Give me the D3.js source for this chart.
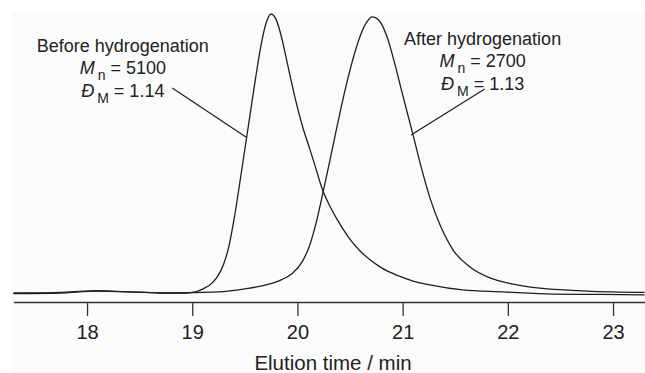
<!doctype html>
<html>
    <head>
        <meta charset="utf-8">
        <title>SEC traces before / after hydrogenation</title>
        <script src="https://d3js.org/d3.v7.min.js"></script>
        <style type="text/css">
            body { margin:0; background:#fff; }
            text { font-family:"Liberation Sans", Arial, sans-serif; fill:#222; }
        </style>
    </head>
    <body>
      <svg></svg>
      <script type="text/javascript">

        let w = 645,
            h = 373;

        // elution time (min) and normalised RI intensity
        let timeBefore = [17.30, 17.55, 17.84, 18.10, 18.36, 18.69, 18.93, 19.00, 19.10, 19.20,
                          19.25, 19.30, 19.35, 19.40, 19.45, 19.50, 19.55, 19.60, 19.65, 19.70,
                          19.75, 19.80, 19.85, 19.90, 19.98, 20.05, 20.12, 20.17, 20.24, 20.31,
                          20.38, 20.44, 20.50, 20.60, 20.69, 20.80, 20.95, 21.10, 21.26, 21.57,
                          21.95, 22.43, 22.88, 23.30];
        let intensityBefore = [0, 0, 0.4, 0.8, 0.5, 0, 0, 0.2, 1.4, 4.0,
                               6.5, 10.5, 17.0, 27.0, 39.0, 51.5, 64.0, 76.5, 88.0, 96.5,
                               100, 97.8, 91.5, 83.0, 69.5, 59.5, 51.3, 45.3, 36.8, 31.0,
                               26.2, 22.5, 19.2, 14.9, 11.9, 9.0, 6.3, 4.3, 2.9, 1.1,
                               0.4, -0.4, -0.5, -0.7];

        let timeAfter = [17.30, 17.74, 18.10, 18.41, 18.79, 19.25, 19.50, 19.70, 19.85, 19.95,
                         20.05, 20.12, 20.18, 20.24, 20.30, 20.36, 20.42, 20.48, 20.54, 20.60,
                         20.66, 20.71, 20.78, 20.85, 20.93, 21.00, 21.09, 21.17, 21.26, 21.36,
                         21.48, 21.64, 21.83, 22.05, 22.28, 22.75, 23.30];
        let intensityAfter = [-0.2, 0, 0.7, 0.4, 0, 0.4, 1.5, 2.9, 4.8, 7.0,
                              11.5, 17.5, 25.5, 35.5, 46.0, 56.8, 67.3, 77.0, 85.5, 92.5,
                              97.2, 99.0, 97.5, 92.0, 81.5, 71.0, 58.0, 46.0, 34.0, 24.0,
                              15.4, 9.3, 5.4, 3.2, 1.8, 0.7, 0.2];

        let tickValues = [18, 19, 20, 21, 22, 23];
        let axisTitle = 'Elution time / min';

        let labelTitles = ['Before hydrogenation', 'After hydrogenation'];
        let labelMn = ['5100', '2700'];
        let labelDispersity = ['1.14', '1.13'];
        // label centre (time, intensity of first baseline) and leader line ends
        let labelAnchor = [[18.34, 86.4], [21.76, 88.9]];
        let leaderFrom = [[18.81, 73.5], [21.78, 73.1]];
        let leaderTo = [[19.51, 55.9], [21.08, 56.6]];

        let svg = d3.select('svg')
                    .attr('width', w)
                    .attr('height', h);

        svg.append('rect')
           .attr('x', 12)
           .attr('y', 12)
           .attr('width', w - 12)
           .attr('height', h - 12)
           .attr('fill', '#fbfbfb');

        let xScale = d3.scaleLinear()
                       .domain([17.3, 23.3])
                       .range([13.4, 644.6]);
        let yScale = d3.scaleLinear()
                       .domain([0, 100])
                       .range([293, 14]);

        let xAxis = d3.axisBottom(xScale)
                      .tickValues(tickValues)
                      .tickFormat(d3.format('d'))
                      .tickSizeInner(14)
                      .tickSizeOuter(0)
                      .tickPadding(9);

        let gx = svg.append('g')
                    .attr('transform', 'translate(0,302)')
                    .call(xAxis);
        gx.select('.domain')
          .attr('stroke', '#333')
          .attr('stroke-width', 1.5);
        gx.selectAll('.tick line')
          .attr('stroke', '#333')
          .attr('stroke-width', 1.3);
        gx.selectAll('.tick text')
          .attr('fill', '#222')
          .style('font-size', '20px')
          .style('font-family', '"Liberation Sans", Arial, sans-serif');

        svg.append('text')
           .attr('x', 333)
           .attr('y', 370)
           .attr('text-anchor', 'middle')
           .style('font-size', '20.5px')
           .text(axisTitle);

        let line = d3.line()
                     .x(function(d) { return xScale(d[0]); })
                     .y(function(d) { return yScale(d[1]); })
                     .curve(d3.curveMonotoneX);

        let traces = [d3.zip(timeBefore, intensityBefore), d3.zip(timeAfter, intensityAfter)];

        svg.selectAll('path.trace')
           .data(traces)
           .enter()
           .append('path')
           .attr('class', 'trace')
           .attr('d', line)
           .attr('fill', 'none')
           .attr('stroke', '#1e1e1e')
           .attr('stroke-width', 1.3);

        // leader lines
        svg.selectAll('line.leader')
           .data(d3.range(2))
           .enter()
           .append('line')
           .attr('class', 'leader')
           .attr('x1', function(i) { return xScale(leaderFrom[i][0]); })
           .attr('y1', function(i) { return yScale(leaderFrom[i][1]); })
           .attr('x2', function(i) { return xScale(leaderTo[i][0]); })
           .attr('y2', function(i) { return yScale(leaderTo[i][1]); })
           .attr('stroke', '#1e1e1e')
           .attr('stroke-width', 1.2);

        // labels
        for (let i = 0; i < 2; i++) {
            let cx = xScale(labelAnchor[i][0]),
                cy = yScale(labelAnchor[i][1]);
            let g = svg.append('g').style('font-size', '18px');

            g.append('text')
             .attr('x', cx)
             .attr('y', cy)
             .attr('text-anchor', 'middle')
             .text(labelTitles[i]);

            let t1 = g.append('text')
                      .attr('x', cx)
                      .attr('y', cy + 22)
                      .attr('text-anchor', 'middle');
            t1.append('tspan').style('font-style', 'italic').text('M');
            t1.append('tspan').attr('dx', 3).attr('dy', 6).style('font-size', '14px').text('n');
            t1.append('tspan').attr('dy', -6).text(' = ' + labelMn[i]);

            let t2 = g.append('text')
                      .attr('x', cx)
                      .attr('y', cy + 45)
                      .attr('text-anchor', 'middle');
            t2.append('tspan').style('font-style', 'italic').text('\u0110');
            t2.append('tspan').attr('dx', 3).attr('dy', 6).style('font-size', '14px').text('M');
            t2.append('tspan').attr('dy', -6).text(' = ' + labelDispersity[i]);
        }
        </script>
    </body>
</html>
